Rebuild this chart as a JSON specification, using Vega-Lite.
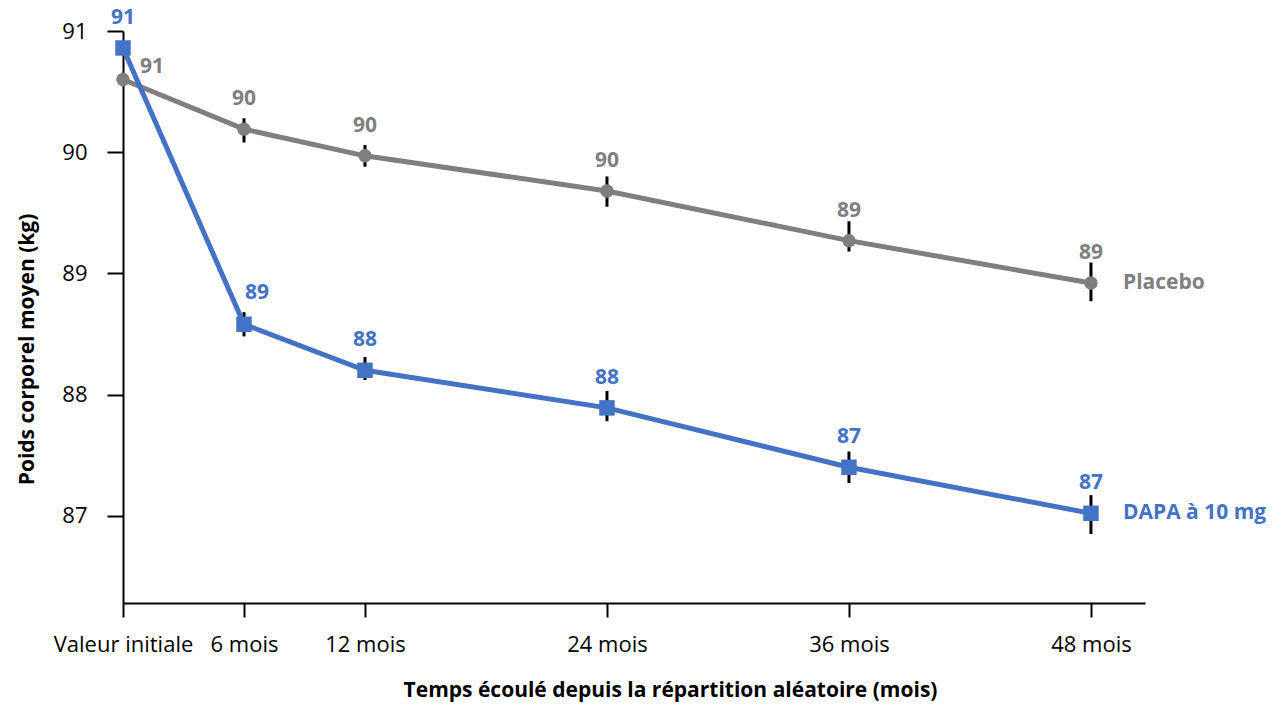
{
  "$schema": "https://vega.github.io/schema/vega-lite/v6.json",
  "width": 1022,
  "height": 572,
  "autosize": {"type": "none"},
  "padding": {"left": 123, "top": 31, "right": 131, "bottom": 101},
  "background": "white",
  "config": {
    "view": {"stroke": null},
    "font": "Open Sans",
    "text": {"font": "Open Sans"}
  },
  "data": {
    "values": [
      {"series": "Placebo", "month": 0, "value": 90.6, "lo": null, "hi": null},
      {"series": "Placebo", "month": 6, "value": 90.19, "lo": 90.08, "hi": 90.28},
      {"series": "Placebo", "month": 12, "value": 89.97, "lo": 89.88, "hi": 90.06},
      {"series": "Placebo", "month": 24, "value": 89.68, "lo": 89.55, "hi": 89.8},
      {"series": "Placebo", "month": 36, "value": 89.27, "lo": 89.18, "hi": 89.43},
      {"series": "Placebo", "month": 48, "value": 88.92, "lo": 88.77, "hi": 89.09},
      {"series": "DAPA à 10 mg", "month": 0, "value": 90.86, "lo": null, "hi": null},
      {"series": "DAPA à 10 mg", "month": 6, "value": 88.58, "lo": 88.48, "hi": 88.68},
      {"series": "DAPA à 10 mg", "month": 12, "value": 88.2, "lo": 88.12, "hi": 88.31},
      {"series": "DAPA à 10 mg", "month": 24, "value": 87.89, "lo": 87.78, "hi": 88.03},
      {"series": "DAPA à 10 mg", "month": 36, "value": 87.4, "lo": 87.27, "hi": 87.53},
      {"series": "DAPA à 10 mg", "month": 48, "value": 87.02, "lo": 86.85, "hi": 87.17}
    ]
  },
  "encoding": {
    "x": {
      "field": "month",
      "type": "quantitative",
      "scale": {"domain": [0, 50.68], "nice": false, "zero": false},
      "axis": {
        "values": [0, 6, 12, 24, 36, 48],
        "labelExpr": "datum.value == 0 ? 'Valeur initiale' : datum.value + ' mois'",
        "title": "Temps écoulé depuis la répartition aléatoire (mois)",
        "titleFont": "Open Sans",
        "titleFontSize": 21,
        "titleFontWeight": "bold",
        "titleColor": "black",
        "titleX": 547,
        "titleY": 87,
        "titleAnchor": null,
        "titleAlign": "center",
        "titleBaseline": "middle",
        "labelFont": "Open Sans",
        "labelFontSize": 22,
        "labelColor": "black",
        "labelPadding": 17,
        "labelOverlap": false,
        "labelFlush": false,
        "tickSize": 14,
        "tickColor": "black",
        "tickWidth": 2,
        "domainColor": "black",
        "domainWidth": 2,
        "grid": false
      }
    },
    "y": {
      "field": "value",
      "type": "quantitative",
      "scale": {"domain": [86.28, 91], "nice": false, "zero": false},
      "axis": {
        "values": [87, 88, 89, 90, 91],
        "format": "d",
        "title": "Poids corporel moyen (kg)",
        "titleFont": "Open Sans",
        "titleFontSize": 21,
        "titleFontWeight": "bold",
        "titleColor": "black",
        "titleX": -96,
        "titleY": 318,
        "titleAngle": -90,
        "titleAlign": "center",
        "titleBaseline": "middle",
        "labelFont": "Open Sans",
        "labelFontSize": 22,
        "labelColor": "black",
        "labelPadding": 20,
        "tickSize": 16,
        "tickColor": "black",
        "tickWidth": 2,
        "domainColor": "black",
        "domainWidth": 2,
        "grid": false
      }
    }
  },
  "layer": [
    {
      "transform": [{"filter": "datum.lo != null"}],
      "mark": {"type": "rule", "color": "black", "strokeWidth": 3},
      "encoding": {
        "y": {"field": "lo", "type": "quantitative"},
        "y2": {"field": "hi"}
      }
    },
    {
      "mark": {"type": "line", "strokeWidth": 5},
      "encoding": {
        "color": {
          "field": "series",
          "type": "nominal",
          "scale": {"domain": ["DAPA à 10 mg", "Placebo"], "range": ["#4472C4", "#7F7F7F"]},
          "legend": null
        },
        "order": {"field": "series", "sort": "ascending"}
      }
    },
    {
      "mark": {"type": "point", "filled": true, "opacity": 1},
      "encoding": {
        "color": {"field": "series", "type": "nominal", "legend": null},
        "shape": {
          "field": "series",
          "type": "nominal",
          "scale": {"domain": ["DAPA à 10 mg", "Placebo"], "range": ["square", "circle"]},
          "legend": null
        },
        "size": {
          "field": "series",
          "type": "nominal",
          "scale": {"domain": ["DAPA à 10 mg", "Placebo"], "range": [240, 180]},
          "legend": null
        }
      }
    },
    {
      "transform": [{"filter": "!(datum.month == 0 && datum.series == 'Placebo') && !(datum.month == 6 && datum.series == 'DAPA à 10 mg')"}],
      "mark": {"type": "text", "fontWeight": "bold", "fontSize": 21, "dy": -30, "baseline": "middle", "align": "center"},
      "encoding": {
        "text": {"field": "value", "type": "quantitative", "format": ".0f"},
        "color": {"field": "series", "type": "nominal", "legend": null}
      }
    },
    {
      "transform": [{"filter": "datum.month == 0 && datum.series == 'Placebo'"}],
      "mark": {"type": "text", "fontWeight": "bold", "fontSize": 21, "dx": 29, "dy": -12, "baseline": "middle", "align": "center"},
      "encoding": {
        "text": {"field": "value", "type": "quantitative", "format": ".0f"},
        "color": {"field": "series", "type": "nominal", "legend": null}
      }
    },
    {
      "transform": [{"filter": "datum.month == 6 && datum.series == 'DAPA à 10 mg'"}],
      "mark": {"type": "text", "fontWeight": "bold", "fontSize": 21, "dx": 13, "dy": -31, "baseline": "middle", "align": "center"},
      "encoding": {
        "text": {"field": "value", "type": "quantitative", "format": ".0f"},
        "color": {"field": "series", "type": "nominal", "legend": null}
      }
    },
    {
      "transform": [{"filter": "datum.month == 48"}],
      "mark": {"type": "text", "fontWeight": "bold", "fontSize": 21, "dx": 32, "baseline": "middle", "align": "left"},
      "encoding": {
        "text": {"field": "series", "type": "nominal"},
        "color": {"field": "series", "type": "nominal", "legend": null}
      }
    }
  ]
}
